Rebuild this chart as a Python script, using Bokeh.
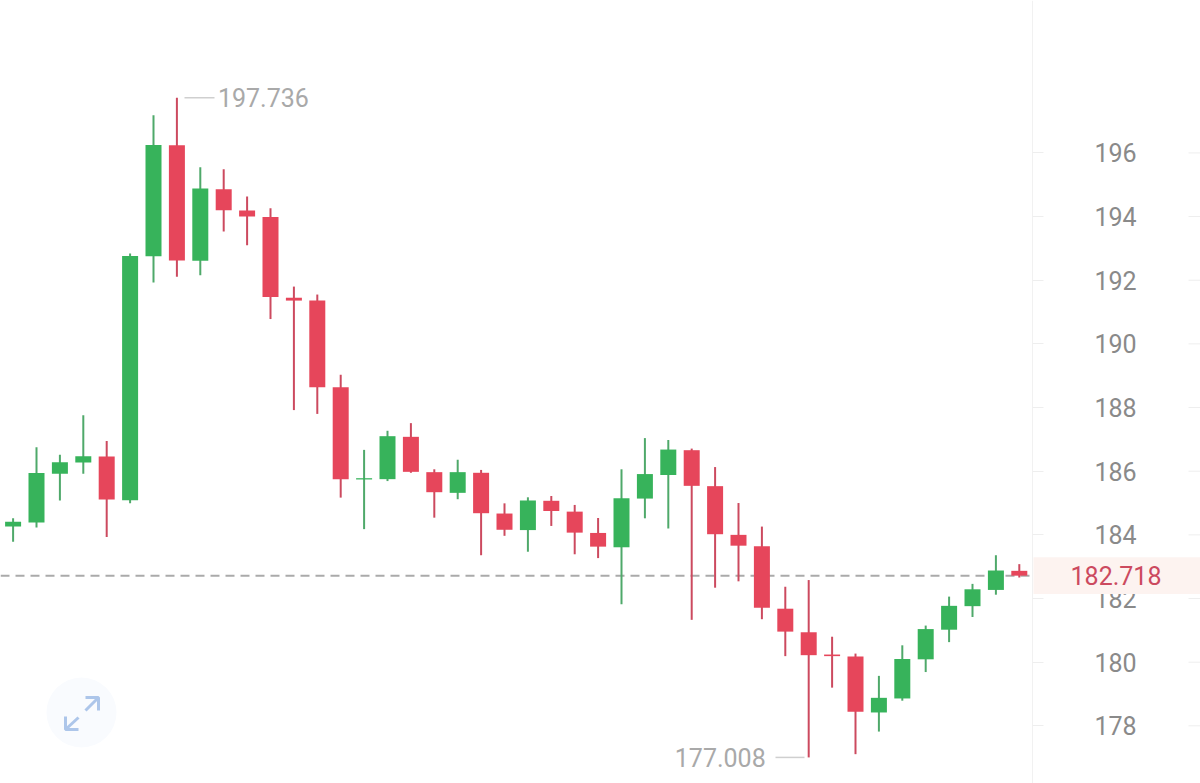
from bokeh.plotting import figure
from bokeh.models import Range1d, FixedTicker, Span, BoxAnnotation, Label
from bokeh.core.properties import value
from bokeh.embed import file_html
from bokeh.resources import INLINE

# Candle data. Index = candle number from the left.
highs = [184.52, 186.75, 186.52, 187.76, 186.95, 192.84, 197.18, 197.736, 195.55, 195.49, 194.63,
         194.26, 191.80, 191.55, 189.03, 186.67, 187.27, 187.51, 186.06, 186.36, 186.04, 184.99,
         185.18, 185.22, 184.94, 184.53, 186.06, 187.04, 186.98, 186.71, 186.13, 185.00, 184.26,
         182.37, 182.58, 180.80, 180.27, 179.57, 180.53, 181.15, 182.06, 182.46, 183.36, 183.08]
lows = [183.78, 184.23, 185.08, 185.92, 183.93, 184.99, 191.93, 192.11, 192.16, 193.53, 193.10,
        190.78, 187.92, 187.80, 185.17, 184.18, 185.69, 185.95, 184.54, 185.12, 183.36, 183.97,
        183.47, 184.28, 183.39, 183.27, 181.82, 184.52, 184.20, 181.33, 182.34, 182.54, 181.35,
        180.19, 177.008, 179.20, 177.11, 177.82, 178.79, 179.69, 180.63, 181.42, 182.12, 182.66]
opens = [184.26, 184.39, 185.92, 186.27, 186.46, 185.09, 192.75, 196.24, 192.61, 194.86, 194.19,
         193.99, 191.45, 191.36, 188.64, 185.74, 185.75, 187.08, 185.97, 185.32, 185.95, 184.67,
         184.15, 185.07, 184.73, 184.06, 183.61, 185.14, 185.88, 186.66, 185.53, 184.00, 183.64,
         181.68, 180.94, 180.24, 180.18, 178.42, 178.86, 180.09, 181.02, 181.76, 182.27, 182.87]
closes = [184.41, 185.94, 186.28, 186.47, 185.11, 192.76, 196.25, 192.62, 194.88, 194.20, 194.00,
          191.47, 191.36, 188.64, 185.75, 185.78, 187.10, 185.98, 185.34, 185.97, 184.68, 184.16,
          185.08, 184.75, 184.07, 183.63, 185.15, 185.91, 186.68, 185.54, 184.02, 183.66, 181.71,
          180.96, 180.22, 180.19, 178.44, 178.88, 180.10, 181.04, 181.77, 182.29, 182.88, 182.718]
y_ticks = [178, 180, 182, 184, 186, 188, 190, 192, 194, 196]
last_price = 182.718

GREEN, RED = "#37b35b", "#e6465b"
GREEN_WICK, RED_WICK = "#4fa96a", "#cc4a5f"
FONT = "Roboto"

# Picture geometry: scale between pixels and the two axes.
W, H, AXIS_X = 1200, 783, 1032
PX_PER_BAR, PX_BAR0 = 23.4, 12.6
PX_PER_UNIT, PX_196 = 31.83, 152.4


def xd(px):
    return (px - PX_BAR0) / PX_PER_BAR


def yd(py):
    return 196 - (py - PX_196) / PX_PER_UNIT


p = figure(width=W, height=H, output_backend="svg", toolbar_location=None,
           x_axis_type=None, y_axis_location="right",
           x_range=Range1d(xd(0), xd(W)), y_range=Range1d(yd(H), yd(0)),
           min_border_left=0, min_border_top=0, min_border_bottom=0, min_border_right=0,
           outline_line_color=None,
           background_fill_color="white", border_fill_color="white")
p.styles = {"position": "absolute", "left": "0px", "top": "0px"}
p.grid.visible = False

ax = p.yaxis[0]
ax.fixed_location = xd(AXIS_X)
ax.ticker = FixedTicker(ticks=y_ticks)
ax.axis_line_color = "#f1f1f1"
ax.major_tick_line_color = "#eeeeee"
ax.major_tick_in = 0
ax.major_tick_out = 11
ax.minor_tick_line_color = None
ax.major_label_standoff = 51
ax.major_label_text_font = FONT
ax.major_label_text_font_size = "25px"
ax.major_label_text_color = "#8a8a8a"

p.add_layout(Span(location=last_price, dimension="width", line_color="#aaaaaa",
                  line_width=2, line_dash="9 6", level="underlay"))

# Tick stubs on the far side of the axis column
p.segment([xd(1188)] * len(y_ticks), y_ticks, [xd(W)] * len(y_ticks), y_ticks,
          line_color="#eeeeee", line_width=1)

xs = list(range(len(opens)))
up = [c >= o for o, c in zip(opens, closes)]
wick_colors = [GREEN_WICK if u else RED_WICK for u in up]
body_colors = [GREEN if u else RED for u in up]
p.segment(xs, lows, xs, highs, line_color=wick_colors, line_width=2)
p.vbar(xs, width=16 / PX_PER_BAR, bottom=opens, top=closes,
       fill_color=body_colors, line_color=None)

# High and low callouts
hi = max(highs)
lo = min(lows)
hi_i, lo_i = highs.index(hi), lows.index(lo)
p.segment([xd(184)], [hi], [xd(214)], [hi], line_color="#cfcfcf", line_width=1.5)
p.segment([xd(775)], [lo], [xd(804)], [lo], line_color="#cfcfcf", line_width=1.5)
p.text([hi_i], [hi], text=[f"{hi:.3f}"], x_offset=41, text_align="left", text_baseline="middle",
       text_font=value(FONT), text_font_size="25px", text_color="#a9a9a9")
p.text([lo_i], [lo], text=[f"{lo:.3f}"], x_offset=-43, text_align="right", text_baseline="middle",
       text_font=value(FONT), text_font_size="25px", text_color="#a9a9a9")

# Expand button
p.scatter([xd(81)], [yd(712)], size=70, marker="circle", fill_color="#f9fbfe", line_color=None)
for path in ([(85, 710), (98, 697)], [(85, 697), (98, 697), (98, 710)],
             [(78, 717), (65, 729)], [(65, 716), (65, 729), (78, 729)]):
    p.line([xd(a) for a, _ in path], [yd(b) for _, b in path],
           line_color="#adc6ea", line_width=3)

# Price tag, over the axis labels
half = 18.3 / PX_PER_UNIT
p.add_layout(BoxAnnotation(left=xd(AXIS_X + 1), right=xd(W), top=last_price + half,
                           bottom=last_price - half, fill_color="#fdf3f0", fill_alpha=1,
                           line_color=None))
p.add_layout(Label(x=xd(1115.5), y=last_price, text=f"{last_price:.3f}", text_align="center",
                   text_baseline="middle", text_font=FONT, text_font_size="25px",
                   text_color="#cc4a5f"))

open("out.html", "w").write(file_html(p, INLINE))
